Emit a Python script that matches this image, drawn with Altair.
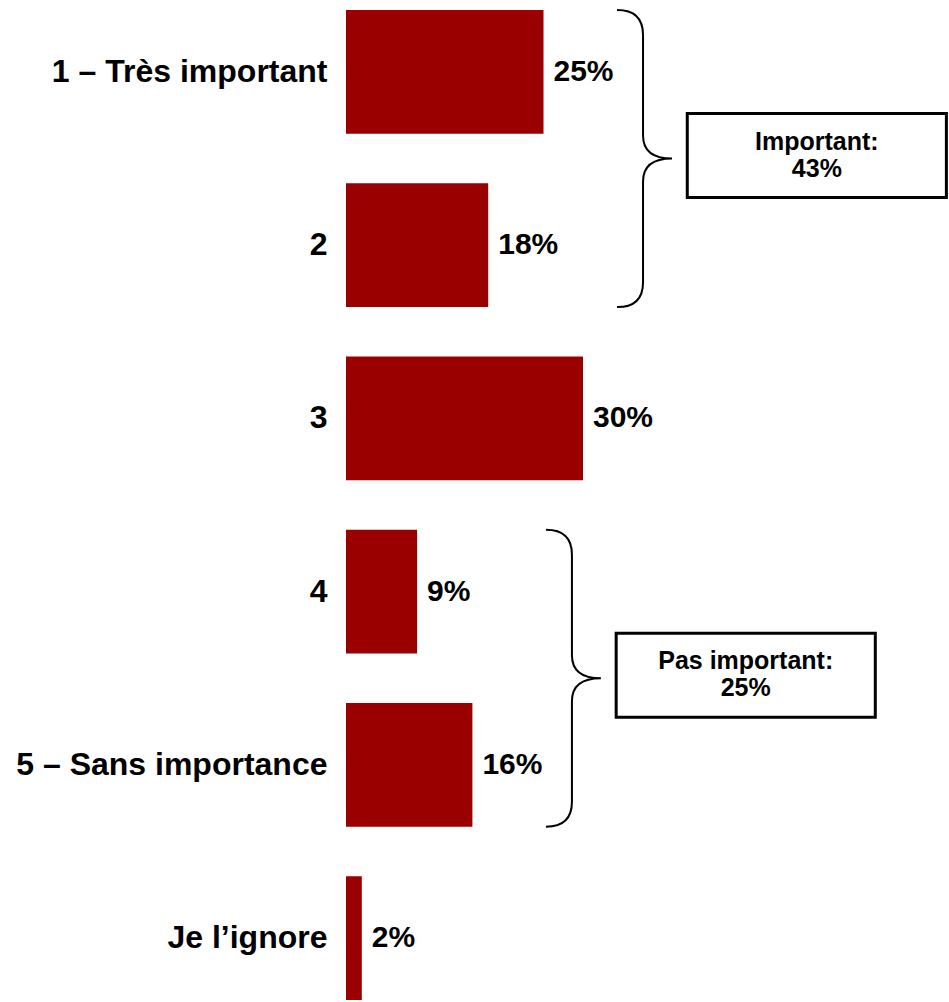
import altair as alt
import pandas as pd

# ---- data ----
categories = ["1 – Très important", "2", "3", "4", "5 – Sans importance", "Je l’ignore"]
values = [25, 18, 30, 9, 16, 2]
group_names = ["Important", "Pas important"]
group_members = [[0, 1], [3, 4]]

# ---- layout ----
FONT = "Liberation Sans"
W, H = 603, 990
PAD_INNER = 0.285
XMAX = 76.33
n = len(categories)
step_px = H / (n - PAD_INNER)

bars_df = pd.DataFrame({
    "cat": categories,
    "value": values,
    "label": [f"{v}%" for v in values],
})

xscale = alt.Scale(domain=[0, XMAX], nice=False, zero=True)
yband = alt.Scale(type="band", paddingInner=PAD_INNER, paddingOuter=0)

bars = alt.Chart(bars_df).mark_bar(color="#9b0000").encode(
    x=alt.X("value:Q", scale=xscale, axis=None),
    y=alt.Y("cat:N", sort=categories, scale=yband,
            axis=alt.Axis(title=None, ticks=False, domain=False, grid=False,
                          labelFontSize=32, labelFont=FONT, labelFontWeight="bold",
                          labelColor="black", labelPadding=19, labelLimit=400)),
)
pct = alt.Chart(bars_df).mark_text(align="left", baseline="middle", dx=10, fontSize=30,
                                   font=FONT, fontWeight="bold", color="black").encode(
    x=alt.X("value:Q", scale=xscale, axis=None),
    y=alt.Y("cat:N", sort=categories, scale=yband, axis=None),
    text="label:N",
)

# brace + box annotations, positioned from the group data (in band units)
rows = []
for name, mem in zip(group_names, group_members):
    top = mem[0]
    bot = mem[-1] + (1 - PAD_INNER)
    center = (top + bot) / 2
    span_px = (bot - top) * step_px
    vmax = max(values[i] for i in mem)
    total = sum(values[i] for i in mem)
    xline = vmax + 12.6
    half_box = 42 / step_px
    bc = center - 3 / step_px
    rows.append(dict(yc=center, bc=bc, xline=xline, size=span_px ** 2,
                     xb1=xline + 5.6, xb2=xline + 38.4,
                     yb1=bc - half_box, yb2=bc + half_box,
                     xt=xline + 22.0, text=f"{name}:\n{total}%"))
ann_df = pd.DataFrame(rows)

yq = alt.Scale(domain=[0, n - PAD_INNER], reverse=True, nice=False, zero=False)

brace_path = ("M -0.175 -1 Q 0 -1 0 -0.832 L 0 -0.155 Q 0 0 0.195 0 "
              "Q 0 0 0 0.155 L 0 0.832 Q 0 1 -0.175 1")

braces = alt.Chart(ann_df).mark_point(shape=brace_path, filled=False, fill=None,
                                      stroke="black", strokeWidth=2, opacity=1).encode(
    x=alt.X("xline:Q", scale=xscale, axis=None),
    y=alt.Y("yc:Q", scale=yq, axis=None),
    size=alt.Size("size:Q", scale=None, legend=None),
)
boxes = alt.Chart(ann_df).mark_rect(fill="white", stroke="black", strokeWidth=3).encode(
    x=alt.X("xb1:Q", scale=xscale, axis=None),
    x2="xb2:Q",
    y=alt.Y("yb1:Q", scale=yq, axis=None),
    y2="yb2:Q",
)
box_text = alt.Chart(ann_df).mark_text(align="center", baseline="middle", fontSize=25,
                                       font=FONT, fontWeight="bold", color="black",
                                       lineBreak="\n", lineHeight=27, dy=-14).encode(
    x=alt.X("xt:Q", scale=xscale, axis=None),
    y=alt.Y("bc:Q", scale=yq, axis=None),
    text="text:N",
)

chart = alt.layer(bars, pct, braces, boxes, box_text).resolve_scale(
    y="independent"
).properties(
    width=W, height=H,
    autosize="none",
    padding={"left": 346, "top": 10, "right": 0, "bottom": 0},
    view=alt.ViewBackground(stroke="white", strokeOpacity=0, strokeWidth=0),
).configure_view(stroke="white", strokeOpacity=0, strokeWidth=0).configure_axis(
    grid=False, domain=False, ticks=False
).configure(background="white")

chart.save("out.html", embed_options={"renderer": "svg", "actions": False})
